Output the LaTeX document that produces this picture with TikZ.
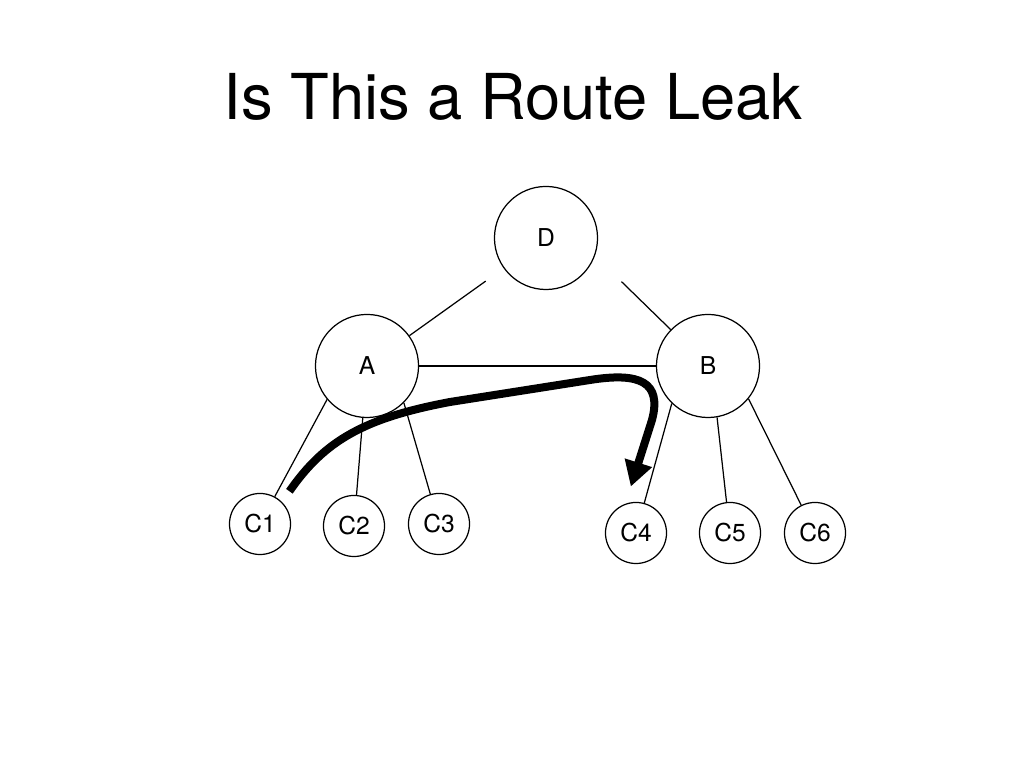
\documentclass[tikz,border=0pt]{standalone}
\usepackage{fontspec}
\setmainfont{TeX Gyre Heros}
\usetikzlibrary{arrows.meta}

\begin{document}
\begin{tikzpicture}[x=0.01cm, y=-0.01cm,
        router/.style={draw, circle, line width=0.35pt, inner sep=0pt, minimum size=1.03cm, font=\fontsize{7pt}{8pt}\selectfont},
        customer/.style={router, minimum size=0.61cm},
        link/.style={draw, line width=0.35pt},
        leak/.style={draw, line width=0.08cm, -{Triangle[length=0.25cm, width=0.27cm]}}]
        \useasboundingbox (0, 0) rectangle (1024, 768);
        \node[anchor=base, font=\fontsize{18pt}{20pt}\selectfont](title) at (513, 120) {Is This a Route Leak};

        \node[router](d) at (546, 238) {D};
        \node[router](a) at (367, 366) {A};
        \node[router](b) at (708, 366) {B};

        \node[customer](c1) at (260, 524) {C1};
        \node[customer](c2) at (354, 526) {C2};
        \node[customer](c3) at (439, 524) {C3};
        \node[customer](c4) at (636, 533) {C4};
        \node[customer](c5) at (730, 533) {C5};
        \node[customer](c6) at (815, 533) {C6};

        \draw[link, shorten <=0.22cm] (d) -- (a);
        \draw[link, shorten <=0.37cm] (d.-20) -- (b);
        \draw[link] (a) -- (b);
        \draw[link] (a.-140) -- (c1);
        \draw[link] (a) -- (c2);
        \draw[link] (a.-45) -- (c3);
        \draw[link] (b.-134) -- (c4);
        \draw[link] (b.-80) -- (c5);
        \draw[link] (b.-39) -- (c6);

        \draw[leak, shorten <=0.13cm, shorten >=0.18cm] (c1.45) .. controls (325, 440) and (365, 418) .. (450, 402) -- (590, 380) .. controls (640, 372) and (662, 382) .. (652, 420) -- (c4.110);
\end{tikzpicture}
\end{document}
